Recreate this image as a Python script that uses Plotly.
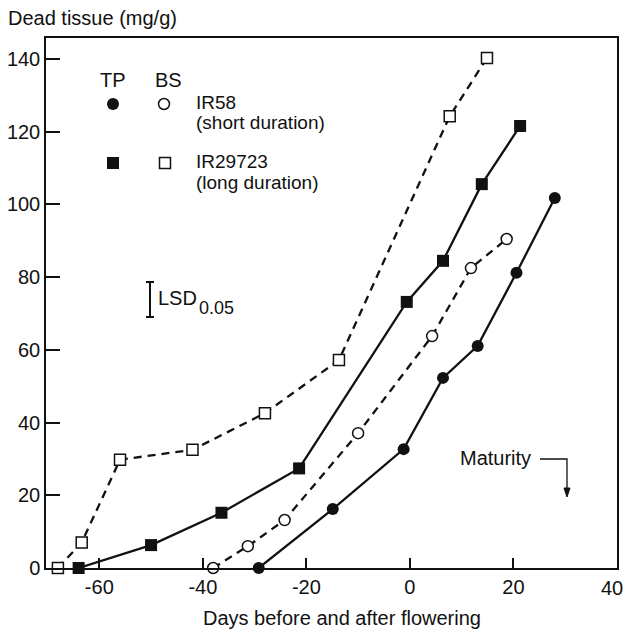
import plotly.graph_objects as go

# ---------------------------------------------------------------------------
# data (days vs. dead tissue, mg/g)
# ---------------------------------------------------------------------------
ir29723_bs_days = [-68, -63.4, -56, -42, -28, -13.7, 7.7, 14.9]
ir29723_bs_dead = [0, 7, 29.8, 32.5, 42.6, 57.2, 124.3, 140.3]

ir29723_tp_days = [-64, -50, -36.4, -21.4, -0.6, 6.4, 13.9, 21.3]
ir29723_tp_dead = [0, 6.3, 15.2, 27.4, 73.2, 84.5, 105.6, 121.6]

ir58_bs_days = [-38, -31.3, -24.2, -10, 4.3, 11.8, 18.7]
ir58_bs_dead = [0, 6, 13.2, 37.1, 63.8, 82.5, 90.5]

ir58_tp_days = [-29.2, -14.9, -1.2, 6.4, 13.1, 20.6, 28]
ir58_tp_dead = [0, 16.2, 32.7, 52.3, 61.1, 81.2, 101.8]

x_ticks = [-60, -40, -20, 0, 20, 40]
x_tick_labels = ["-60", "-40", "-20", "0", "20", "40"]
y_ticks = [0, 20, 40, 60, 80, 100, 120, 140]

_FONT = "Liberation Sans, Arial, sans-serif"
_BLACK = "#111"
_W, _H = 626, 633
_L, _R, _T, _B = 46, 9, 38, 65


def px(x):
    # pixel x in the window -> paper x
    return (x - _L) / (_W - _L - _R)


def py(y):
    # pixel y in the window -> paper y
    return (_H - _B - y) / (_H - _T - _B)


solid = dict(color=_BLACK, width=2.3)
dashed = dict(color=_BLACK, width=2.3, dash="8px,6px")

fig = go.Figure()
fig.add_trace(go.Scatter(
    x=ir29723_bs_days, y=ir29723_bs_dead, mode="lines+markers",
    line=dashed, cliponaxis=False,
    marker=dict(symbol="square", size=11, color="white",
                line=dict(color=_BLACK, width=1.5)),
))
fig.add_trace(go.Scatter(
    x=ir58_bs_days, y=ir58_bs_dead, mode="lines+markers",
    line=dashed, cliponaxis=False,
    marker=dict(symbol="circle", size=11, color="white",
                line=dict(color=_BLACK, width=1.5)),
))
fig.add_trace(go.Scatter(
    x=ir29723_tp_days, y=ir29723_tp_dead, mode="lines+markers",
    line=solid, cliponaxis=False,
    marker=dict(symbol="square", size=12, color=_BLACK),
))
fig.add_trace(go.Scatter(
    x=ir58_tp_days, y=ir58_tp_dead, mode="lines+markers",
    line=solid, cliponaxis=False,
    marker=dict(symbol="circle", size=12, color=_BLACK),
))

# hand-drawn legend on an overlay axis (paper units)
fig.add_trace(go.Scatter(
    x=[px(113), px(113)], y=[py(104), py(163)], xaxis="x2", yaxis="y2",
    mode="markers", hoverinfo="skip",
    marker=dict(symbol=["circle", "square"], size=12, color=_BLACK),
))
fig.add_trace(go.Scatter(
    x=[px(164), px(165)], y=[py(104), py(163)], xaxis="x2", yaxis="y2",
    mode="markers", hoverinfo="skip",
    marker=dict(symbol=["circle", "square"], size=11, color="white",
                line=dict(color=_BLACK, width=1.5)),
))

txt = dict(family=_FONT, size=20, color=_BLACK)
small = dict(family=_FONT, size=19, color=_BLACK)
notes = [
    (113, 80, "TP", "center", txt),
    (168, 80, "BS", "center", txt),
    (194, 103, "IR58", "left", small),
    (194, 123, "(short duration)", "left", small),
    (194, 162, "IR29723", "left", small),
    (194, 182, "(long duration)", "left", small),
    (156, 298, "LSD", "left", txt),
    (533, 458, "Maturity", "right", txt),
]
for x, y, t, anchor, f in notes:
    fig.add_annotation(x=px(x), y=py(y), xref="paper", yref="paper", text=t,
                       showarrow=False, xanchor=anchor, yanchor="middle", font=f)
fig.add_annotation(x=px(197), y=py(308), xref="paper", yref="paper", text="0.05",
                   showarrow=False, xanchor="left", yanchor="middle",
                   font=dict(family=_FONT, size=18, color=_BLACK))
fig.add_annotation(x=px(342), y=py(618), xref="paper", yref="paper",
                   text="Days before and after flowering", showarrow=False,
                   xanchor="center", yanchor="middle", font=txt)
# last x label sits flush with the right edge of the page
fig.add_annotation(x=px(625), y=py(588), xref="paper", yref="paper",
                   text=x_tick_labels[-1], showarrow=False, xanchor="right",
                   yanchor="middle", font=txt, xshift=0)

# LSD bar
line = dict(color=_BLACK, width=2)
fig.add_shape(type="line", xref="paper", yref="paper",
              x0=px(150), x1=px(150), y0=py(282), y1=py(317), line=line)
for yy in (282, 317):
    fig.add_shape(type="line", xref="paper", yref="paper",
                  x0=px(146), x1=px(154), y0=py(yy), y1=py(yy), line=line)

# maturity arrow
fig.add_shape(type="path", xref="paper", yref="paper",
              path=f"M {px(540)},{py(459)} L {px(567)},{py(459)} L {px(567)},{py(490)}",
              line=dict(color=_BLACK, width=1.3))
fig.add_shape(type="path", xref="paper", yref="paper",
              path=f"M {px(564)},{py(488)} L {px(570)},{py(488)} L {px(567)},{py(497)} Z",
              line=dict(color=_BLACK, width=1), fillcolor=_BLACK)

axis_common = dict(
    showline=True, linecolor=_BLACK, linewidth=1.5, mirror=True,
    showgrid=False, zeroline=False, ticks="inside", tickwidth=1.5,
    tickcolor=_BLACK, tickfont=dict(family=_FONT, size=20, color=_BLACK),
    automargin=False,
)
fig.update_layout(
    width=_W, height=_H,
    margin=dict(l=_L, r=_R, t=_T, b=_B, autoexpand=False),
    paper_bgcolor="white", plot_bgcolor="white",
    showlegend=False,
    title=dict(text="Dead tissue (mg/g)", x=8 / _W, y=1 - 18 / _H,
               xref="container", yref="container", xanchor="left",
               yanchor="middle", font=txt, automargin=False),
    xaxis=dict(range=[-70.3, 40.02], tickvals=x_ticks,
               ticktext=x_tick_labels[:-1] + [""], ticklen=10, **axis_common),
    yaxis=dict(range=[0, 145.8], tickvals=y_ticks, ticklen=14, **axis_common),
    xaxis2=dict(overlaying="x", range=[0, 1], visible=False),
    yaxis2=dict(overlaying="y", range=[0, 1], visible=False),
)

# the page's default 8px body margin would push the figure out of the window
fig.write_html("out.html", config={"displayModeBar": False},
               post_script="document.body.style.margin = '0';")
